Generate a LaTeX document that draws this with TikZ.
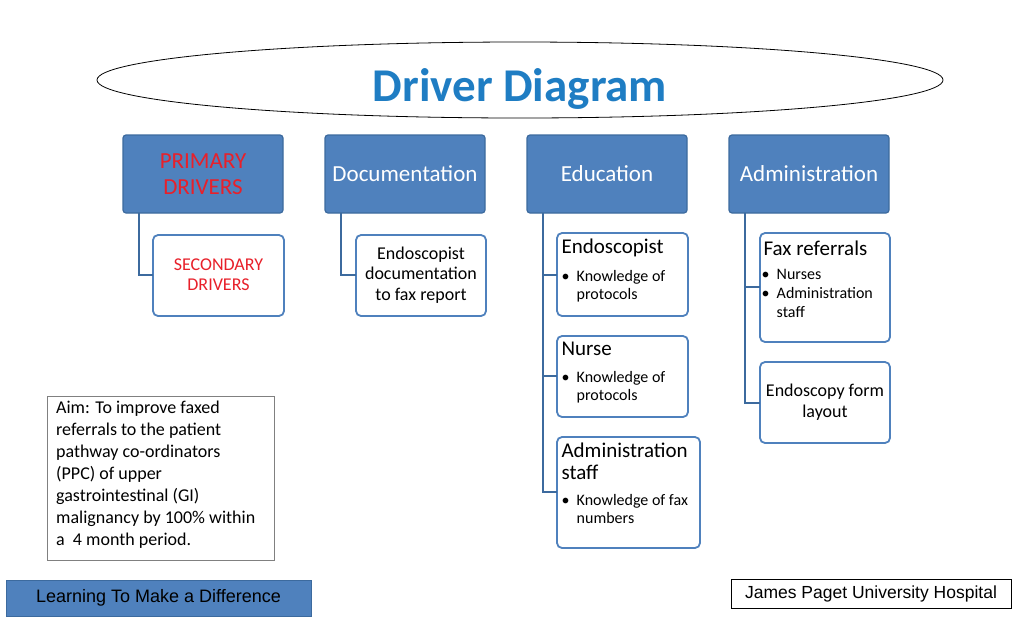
\documentclass[tikz,border=0pt]{standalone}
\usepackage{fontspec}
\setmainfont{Carlito}
\newfontfamily\arialf{Liberation Sans}
\usetikzlibrary{shapes.geometric}
\definecolor{pb}{HTML}{4F81BD}
\definecolor{pbd}{HTML}{3C6A9E}
\definecolor{tb}{HTML}{1F7DC3}
\definecolor{rd}{HTML}{E8202A}
\begin{document}
\begin{tikzpicture}[x=1pt,y=-1pt,
 prim/.style={draw=pbd,line width=1.2pt,fill=pb,rounded corners=3pt},
 sec/.style={draw=pb,line width=1.8pt,fill=white,rounded corners=5pt},
 con/.style={draw=pbd,line width=1.8pt}]
\useasboundingbox (0,0) rectangle (1024,622);
\node[draw,ellipse,line width=0.8pt,minimum width=846,minimum height=76] (ell) at (520,80) {};
\node[text=tb,font=\fontsize{47}{50}\selectfont\bfseries] (title) at (520,89) {Driver Diagram};
% primary
\path[prim] (123,135) rectangle (283,213);
\node[text=rd,font=\fontsize{23}{26}\selectfont,align=center] (p1) at (203,174) {PRIMARY\\DRIVERS};
\path[prim] (325,135) rectangle (485,213);
\node[text=white,font=\fontsize{23}{26}\selectfont] (p2) at (405,174) {Documentation};
\path[prim] (527,135) rectangle (687,213);
\node[text=white,font=\fontsize{23}{26}\selectfont] (p3) at (607,174) {Education};
\path[prim] (729,135) rectangle (889,213);
\node[text=white,font=\fontsize{23}{26}\selectfont] (p4) at (809,174) {Administration};
% secondary boxes
\path[sec] (153,235) rectangle (284,316);
\node[text=rd,font=\fontsize{18}{20}\selectfont,align=center] (s1) at (218.5,275) {SECONDARY\\DRIVERS};
\path[sec] (356,235) rectangle (486,316);
\node[font=\fontsize{18}{20.5}\selectfont,align=center] (s2) at (421,275) {Endoscopist\\documentation\\to fax report};
\path[sec] (557,233) rectangle (688,316);
\node[font=\fontsize{21}{24}\selectfont,anchor=west] (e1) at (558,248) {Endoscopist};
\node[font=\fontsize{16}{18}\selectfont,anchor=north west,align=left] at (558,267) {\textbullet\ \ Knowledge of\\\phantom{\textbullet\ \ }protocols};
\path[sec] (557,336) rectangle (688,417);
\node[font=\fontsize{21}{24}\selectfont,anchor=west] (e2) at (558,349) {Nurse};
\node[font=\fontsize{16}{18}\selectfont,anchor=north west,align=left] at (558,368) {\textbullet\ \ Knowledge of\\\phantom{\textbullet\ \ }protocols};
\path[sec] (557,437) rectangle (700,548);
\node[font=\fontsize{21}{22.5}\selectfont,anchor=north west,align=left] (e3) at (558,439) {Administration\\staff};
\node[font=\fontsize{16}{18}\selectfont,anchor=north west,align=left] at (558,491) {\textbullet\ \ Knowledge of fax\\\phantom{\textbullet\ \ }numbers};
\path[sec] (760,233) rectangle (890,342);
\node[font=\fontsize{21}{24}\selectfont,anchor=west] (a1) at (760,248) {Fax referrals};
\node[font=\fontsize{16}{19}\selectfont,anchor=north west,align=left] at (758,266) {\textbullet\ \ Nurses\\\textbullet\ \ Administration\\\phantom{\textbullet\ \ }staff};
\path[sec] (760,362) rectangle (890,443);
\node[font=\fontsize{18}{20.5}\selectfont,align=center] (a2) at (825,402) {Endoscopy form\\layout};
% connectors
\coordinate (c1a) at (139,213); \coordinate (c1b) at (139,275); \coordinate (c1c) at (153,275);
\draw[con] (c1a) -- (c1b) -- (c1c);
\coordinate (c2a) at (341,213); \coordinate (c2b) at (341,275); \coordinate (c2c) at (356,275);
\draw[con] (c2a) -- (c2b) -- (c2c);
\coordinate (c3a) at (543,213); \coordinate (c3b) at (543,492);
\coordinate (c3c) at (557,275); \coordinate (c3d) at (557,376); \coordinate (c3e) at (557,492);
\draw[con] (c3a) -- (c3b) -- (c3e);
\draw[con] (c3a |- c3c) -- (c3c); \draw[con] (c3a |- c3d) -- (c3d);
\coordinate (c4a) at (745,213); \coordinate (c4b) at (745,403);
\coordinate (c4c) at (760,287); \coordinate (c4d) at (760,403);
\draw[con] (c4a) -- (c4b) -- (c4d);
\draw[con] (c4a |- c4c) -- (c4c);
% aim
\node[draw=gray,line width=0.6pt,anchor=north west,minimum width=227,minimum height=164,inner sep=0pt] (aimbox) at (47,396) {};
\node[anchor=north west,align=left,inner sep=0pt,font=\fontsize{18}{22}\selectfont] (aim) at (56,401) {Aim: To improve faxed\\referrals to the patient\\pathway co-ordinators\\(PPC) of upper\\gastrointestinal (GI)\\malignancy by 100\% within\\a\ \ 4 month period.};
\node[draw=pbd,fill=pb,line width=0.8pt,minimum width=305,minimum height=36,font=\arialf\fontsize{18}{20}\selectfont] (learn) at (158.5,598) {Learning To Make a Difference};
\node[draw=black,fill=white,line width=0.8pt,minimum width=280,minimum height=29,font=\arialf\fontsize{17.5}{20}\selectfont] (jp) at (871,593.5) {James Paget University Hospital};
\end{tikzpicture}
\end{document}
